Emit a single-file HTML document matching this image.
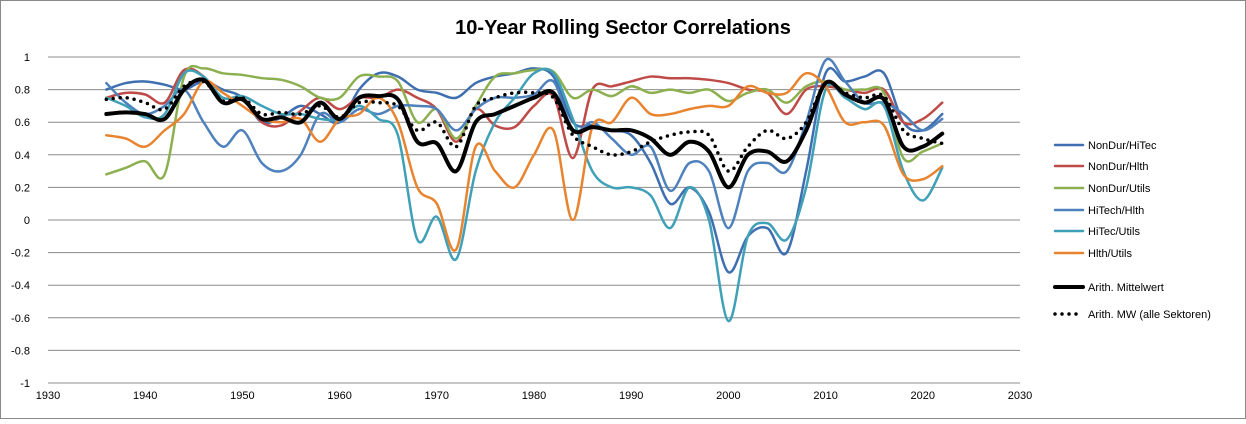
<!DOCTYPE html>
<html><head><meta charset="utf-8"><style>
body{margin:0;background:#fff;font-family:"Liberation Sans",sans-serif;}
svg text{font-family:"Liberation Sans",sans-serif;}
</style></head><body>
<svg id="chart" width="1246" height="419" viewBox="0 0 1246 419" xmlns="http://www.w3.org/2000/svg">
<rect x="0.5" y="0.5" width="1245" height="418" fill="#fff" stroke="#888"/>
<text x="623" y="34" text-anchor="middle" font-size="20" font-weight="bold" fill="#000">10-Year Rolling Sector Correlations</text>
<g id="grid"></g><g id="axes"></g><g id="series"></g><g id="legend"></g>
</svg>
<script>
const years=[1936,1938,1940,1942,1944,1946,1948,1950,1952,1954,1956,1958,1960,1962,1964,1966,1968,1970,1972,1974,1976,1978,1980,1982,1984,1986,1988,1990,1992,1994,1996,1998,2000,2002,2004,2006,2008,2010,2012,2014,2016,2018,2020,2022];
const seriesNames=["NonDur/HiTec","NonDur/Hlth","NonDur/Utils","HiTech/Hlth","HiTec/Utils","Hlth/Utils","Arith. Mittelwert","Arith. MW  (alle Sektoren)"];
const s1=[.8,.84,.85,.83,.8,.85,.8,.75,.6,.63,.7,.65,.6,.8,.9,.88,.8,.78,.75,.84,.88,.9,.93,.88,.6,.58,.55,.52,.35,.1,.2,.05,-.32,-.1,-.05,-.2,.3,.9,.85,.88,.9,.6,.55,.65];
const s2=[.75,.78,.77,.72,.92,.88,.72,.75,.6,.58,.67,.75,.68,.75,.75,.8,.75,.68,.48,.68,.58,.57,.7,.76,.38,.8,.82,.85,.88,.87,.87,.86,.84,.8,.78,.65,.8,.82,.8,.78,.8,.6,.62,.72];
const s3=[.28,.32,.36,.28,.88,.93,.9,.89,.87,.86,.82,.75,.75,.88,.88,.85,.6,.68,.5,.7,.88,.9,.92,.91,.75,.8,.76,.82,.78,.8,.78,.8,.73,.78,.8,.72,.82,.85,.8,.8,.78,.38,.42,.47];
const s4=[.84,.72,.65,.7,.8,.6,.45,.55,.35,.3,.4,.65,.6,.68,.65,.7,.7,.68,.55,.68,.75,.75,.77,.85,.55,.6,.5,.4,.45,.18,.35,.3,-.05,.3,.35,.3,.6,.98,.85,.72,.72,.65,.55,.62];
const s5=[.75,.7,.63,.65,.9,.88,.75,.76,.7,.65,.65,.62,.62,.7,.62,.52,-.12,.02,-.24,.3,.6,.75,.9,.9,.62,.3,.2,.2,.15,-.05,.2,0,-.62,-.1,-.02,-.12,.2,.8,.75,.68,.7,.3,.12,.32];
const s6=[.52,.5,.45,.55,.65,.85,.78,.7,.62,.6,.62,.48,.62,.65,.75,.6,.2,.1,-.18,.45,.3,.2,.4,.55,0,.57,.6,.75,.65,.65,.68,.7,.7,.82,.78,.78,.9,.82,.6,.6,.58,.28,.25,.33];
const s7=[.65,.66,.65,.62,.8,.86,.72,.74,.62,.63,.6,.72,.62,.75,.76,.74,.48,.47,.3,.6,.65,.7,.75,.78,.55,.57,.55,.55,.5,.4,.48,.42,.2,.4,.42,.36,.55,.84,.77,.72,.74,.45,.45,.53];
const s8=[.74,.75,.72,.68,.82,.85,.73,.75,.65,.66,.65,.7,.63,.72,.72,.7,.55,.6,.45,.7,.75,.78,.78,.75,.52,.45,.4,.42,.48,.52,.54,.52,.3,.45,.55,.5,.6,.84,.78,.75,.76,.55,.5,.47];
const yTicks=[1,0.8,0.6,0.4,0.2,0,-0.2,-0.4,-0.6,-0.8,-1];
const xTicks=[1930,1940,1950,1960,1970,1980,1990,2000,2010,2020,2030];
const colors=["#3F6FB0","#BE4B48","#8CB050","#4F81BD","#3FA0B8","#E8842F","#000","#000"];
const NS="http://www.w3.org/2000/svg";
const X=y=>48+(y-1930)*9.72, Y=v=>220-v*163;
function mk(tag,attrs,parent){const e=document.createElementNS(NS,tag);for(const k in attrs)e.setAttribute(k,attrs[k]);parent.appendChild(e);return e;}
const grid=document.getElementById('grid'),axes=document.getElementById('axes'),ser=document.getElementById('series'),leg=document.getElementById('legend');
yTicks.forEach(t=>{const l=mk('line',{x1:48,x2:1020,y1:Y(t),y2:Y(t),stroke:'#8c8c8c','stroke-width':1},grid);


const tx=mk('text',{x:30,y:Y(t)+4,'text-anchor':'end','font-size':11,fill:'#000'},axes);tx.textContent=String(t);

});
xTicks.forEach(t=>{const tx=mk('text',{x:X(t),y:399,'text-anchor':'middle','font-size':11,fill:'#000'},axes);tx.textContent=String(t);

});
function pathD(vals){const p=vals.map((v,i)=>[X(years[i]),Y(v)]);let d='M'+p[0][0]+','+p[0][1];
for(let i=0;i<p.length-1;i++){const a=p[Math.max(0,i-1)],b=p[i],c=p[i+1],e=p[Math.min(p.length-1,i+2)];
d+=' C'+(b[0]+(c[0]-a[0])/6)+','+(b[1]+(c[1]-a[1])/6)+' '+(c[0]-(e[0]-b[0])/6)+','+(c[1]-(e[1]-b[1])/6)+' '+c[0]+','+c[1];}return d;}
const all=[s1,s2,s3,s4,s5,s6,s7,s8];
all.forEach((s,i)=>{const attrs={d:pathD(s),fill:'none',stroke:colors[i],'stroke-width':i==6?4:2.5,'stroke-linejoin':'round','stroke-linecap':'round'};
if(i==7){attrs['stroke-dasharray']='0 7';attrs['stroke-width']=3.5;}
const p=mk('path',attrs,ser);

});
const ly=[145,166,188,210,231,253,287,314];
seriesNames.forEach((n,i)=>{const attrs={x1:1055,x2:1083,y1:ly[i],y2:ly[i],stroke:colors[i],'stroke-width':i==6?4:2.5,'stroke-linecap':'round'};
if(i==7){attrs['stroke-dasharray']='0 7';attrs['stroke-width']=3.5;}
const l=mk('line',attrs,leg);


const t=mk('text',{x:1088,y:ly[i]+4,'font-size':11,fill:'#000'},leg);t.textContent=n;

});
</script>
</body></html>
